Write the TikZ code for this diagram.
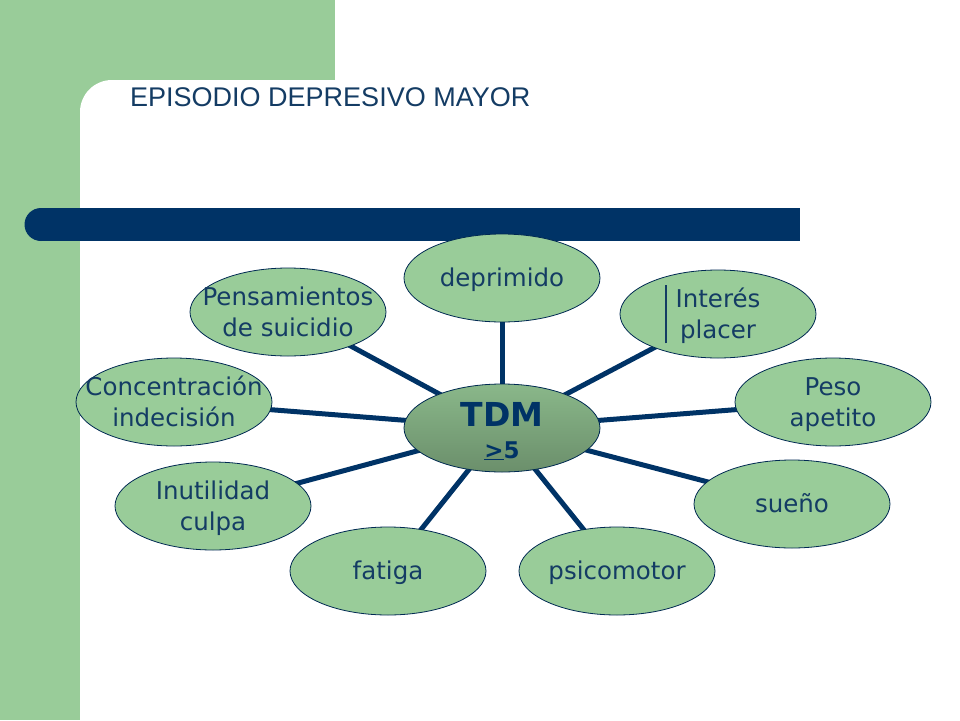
\documentclass[tikz,border=0pt]{standalone}
\usepackage{fontspec}
\setmainfont{Liberation Sans}
\newfontfamily\tahoma{DejaVu Sans}
\usepackage{tikz}
\usetikzlibrary{shapes.geometric,positioning}
\pgfdeclarelayer{background}
\pgfsetlayers{background,main}
\definecolor{panel}{HTML}{99CC99}
\definecolor{barra}{HTML}{003366}
\definecolor{texto}{HTML}{143C64}
\tikzstyle{sintoma}=[ellipse, draw=barra!80!black, line width=0.8pt, fill=panel,
minimum width=196pt, minimum height=88pt, inner sep=0pt, text=texto,
font=\tahoma\fontsize{24.5}{31}\selectfont]
\tikzstyle{centro}=[sintoma, top color=panel!90!black, middle color=panel!90!white,
bottom color=panel!70!black, text=barra]
\tikzstyle{linea}=[draw, line width=5pt, color=barra]
% text without size, so the ellipse keeps its own size
\newcommand{\bajar}[2]{\raisebox{#1}[0pt][0pt]{#2}}
\newcommand{\sintoma}[2]{node (s#1)[sintoma]{\makebox[0pt]{\bajar{-9pt}{\begin{tabular}{@{}c@{}}#2\end{tabular}}}}}
\begin{document}
\begin{tikzpicture}[x=1pt,y=-1pt]
	\useasboundingbox (0,0) rectangle (960,720);
	
	% Slide background
	\fill[panel] (0,0) rectangle (335,80);
	\fill[panel] (0,0) rectangle (80,720);
	\fill[panel] (80,80) rectangle (112,112);
	\fill[white, rounded corners=32pt] (80,80) rectangle (200,200);
	\fill[barra] (41,208) rectangle (800,241);
	\fill[barra] (41,224.5) circle (16.5pt);
	\node[anchor=base west, inner sep=0pt, text=texto, font=\fontsize{27}{30}\selectfont] (titulo) at (130,106) {EPISODIO DEPRESIVO MAYOR};
	
	% Symptoms
	\path (502,278) \sintoma{1}{deprimido};
	\path (718,314) \sintoma{2}{\llap{\smash{\rule[-36pt]{1.2pt}{58pt}}\hspace{9pt}}Interés\\placer};
	\path (833,402) \sintoma{3}{Peso\\apetito};
	\path (792,504) \sintoma{4}{sueño};
	\path (617,571) \sintoma{5}{psicomotor};
	\path (388,571) \sintoma{6}{fatiga};
	\path (213,506) \sintoma{7}{Inutilidad\\culpa};
	\path (174,402) \sintoma{8}{Concentración\\indecisión};
	\path (288,312) \sintoma{9}{Pensamientos\\de suicidio};
	\node (tdm)[centro] at (502,428) {\makebox[0pt]{\bajar{-13pt}{\begin{tabular}{@{}c@{}}
		{\bfseries\fontsize{33}{34}\selectfont TDM}\\[1pt]
		{\bfseries\fontsize{23}{23}\selectfont\underline{>}5}\end{tabular}}}};
	
	% Connectors
	\begin{pgfonlayer}{background}
		\foreach \s in {1,...,9}
		\path [linea] (tdm.center) -- (s\s.center);
	\end{pgfonlayer}
	
\end{tikzpicture}
\end{document}
